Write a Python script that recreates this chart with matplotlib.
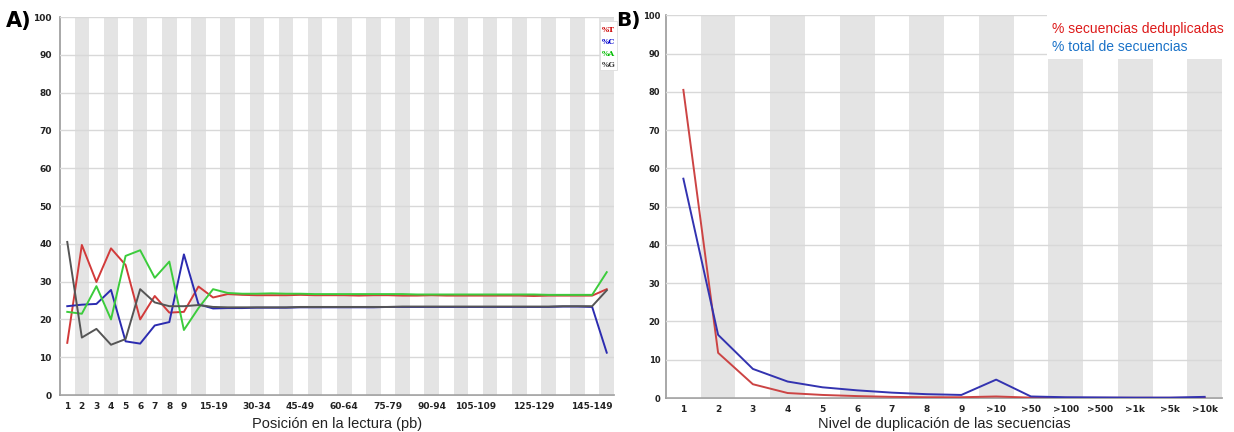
import numpy as np
import matplotlib.pyplot as plt
from matplotlib.patches import Rectangle

# Panel A: per-position base content (%)
pos_labels = ['1', '2', '3', '4', '5', '6', '7', '8', '9',
              '10-14', '15-19', '20-24', '25-29', '30-34', '35-39', '40-44',
              '45-49', '50-54', '55-59', '60-64', '65-69', '70-74', '75-79',
              '80-84', '85-89', '90-94', '95-99', '100-104', '105-109',
              '110-114', '115-119', '120-124', '125-129', '130-134',
              '135-139', '140-144', '145-149', '150-151']
shown_pos = ['1', '2', '3', '4', '5', '6', '7', '8', '9', '15-19', '30-34',
             '45-49', '60-64', '75-79', '90-94', '105-109', '125-129', '145-149']

pct_T = [13.8, 39.7, 29.9, 38.8, 34.4, 20.0, 26.2, 21.8, 22.0, 28.7, 25.8,
         26.7, 26.5, 26.4, 26.4, 26.4, 26.5, 26.4, 26.4, 26.4, 26.3, 26.4,
         26.4, 26.3, 26.3, 26.4, 26.3, 26.3, 26.3, 26.3, 26.3, 26.3, 26.2,
         26.3, 26.3, 26.3, 26.3, 28.0]
pct_C = [23.5, 23.9, 24.1, 27.8, 14.2, 13.6, 18.4, 19.3, 37.2, 24.0, 22.9,
         23.0, 23.0, 23.1, 23.1, 23.1, 23.2, 23.2, 23.2, 23.2, 23.2, 23.2,
         23.3, 23.3, 23.3, 23.3, 23.3, 23.3, 23.3, 23.3, 23.3, 23.3, 23.3,
         23.3, 23.4, 23.4, 23.3, 11.2]
pct_A = [22.0, 21.5, 28.8, 20.0, 36.8, 38.3, 31.0, 35.3, 17.2, 23.0, 28.0,
         27.0, 26.8, 26.8, 26.9, 26.8, 26.8, 26.7, 26.7, 26.7, 26.7, 26.7,
         26.7, 26.7, 26.6, 26.6, 26.6, 26.6, 26.6, 26.6, 26.6, 26.6, 26.6,
         26.5, 26.5, 26.5, 26.5, 32.5]
pct_G = [40.5, 15.2, 17.5, 13.3, 14.8, 28.0, 24.5, 23.5, 23.5, 23.8, 23.3,
         23.2, 23.2, 23.2, 23.2, 23.2, 23.3, 23.3, 23.3, 23.3, 23.3, 23.3,
         23.3, 23.4, 23.4, 23.4, 23.4, 23.4, 23.4, 23.4, 23.4, 23.4, 23.4,
         23.4, 23.5, 23.5, 23.5, 27.7]

# Panel B: sequence duplication levels (%)
dup_labels = ['1', '2', '3', '4', '5', '6', '7', '8', '9', '>10', '>50',
              '>100', '>500', '>1k', '>5k', '>10k']
dedup_pct = [80.5, 11.8, 3.6, 1.3, 0.8, 0.5, 0.3, 0.2, 0.2, 0.4, 0.1,
             0.05, 0.05, 0.05, 0.05, 0.05]
total_pct = [57.3, 16.5, 7.6, 4.3, 2.8, 2.0, 1.4, 1.0, 0.8, 4.8, 0.4,
             0.2, 0.15, 0.1, 0.1, 0.3]

STRIPE = '#e4e4e4'
GRID = '#d8d8d8'
TICKFONT = dict(fontsize=6.5, fontweight='bold', color='#222222')
LABELFONT = dict(fontsize=10.5, family='Liberation Sans', color='#222222')


def base_axes(ax, n, ypad):
    for i in range(1, n, 2):
        ax.axvspan(i - 0.5, i + 0.5, color=STRIPE, lw=0, zorder=0)
    ax.set_xlim(-0.5, n - 0.5)
    ax.set_ylim(0, 100)
    ax.set_yticks(range(0, 101, 10))
    ax.yaxis.grid(True, color=GRID, lw=1)
    ax.set_axisbelow(False)
    for side in ['top', 'right']:
        ax.spines[side].set_visible(False)
    for side in ['left', 'bottom']:
        ax.spines[side].set_color('#999999')
        ax.spines[side].set_linewidth(1.2)
    ax.tick_params(axis='y', length=0, pad=ypad)
    ax.tick_params(axis='x', length=0, pad=5)


fig = plt.figure(figsize=(12.34, 4.32), dpi=100)
axA = fig.add_axes([0.0486, 0.0856, 0.449, 0.875])
axB = fig.add_axes([0.5397, 0.0787, 0.4506, 0.886])

# --- A) base content per position ---
nA = len(pos_labels)
xA = np.arange(nA)
base_axes(axA, nA, 6)
for vals, col in [(pct_T, '#d23a3a'), (pct_C, '#2b2bb0'),
                  (pct_A, '#3ccc3c'), (pct_G, '#555555')]:
    axA.plot(xA, vals, color=col, lw=1.4, zorder=3)
axA.set_xticks([pos_labels.index(p) for p in shown_pos])
axA.set_xticklabels(shown_pos, **TICKFONT)
for lab in axA.get_yticklabels():
    lab.set(**TICKFONT)
axA.set_xlabel('Posición en la lectura (pb)', labelpad=4, **LABELFONT)

# small key in the top right corner
axA.add_patch(Rectangle((0.974, 0.86), 0.032, 0.13, transform=axA.transAxes,
                        facecolor='white', edgecolor='#dddddd', lw=0.6,
                        zorder=4, clip_on=False))
for k, (txt, col) in enumerate([('%T', '#cc0000'), ('%C', '#0000cc'),
                                ('%A', '#00bb00'), ('%G', '#333333')]):
    axA.text(0.990, 0.965 - k * 0.031, txt, transform=axA.transAxes,
             color=col, fontsize=5.5, fontweight='bold', family='DejaVu Serif',
             ha='center', va='center', zorder=5)

# --- B) duplication levels ---
nB = len(dup_labels)
xB = np.arange(nB)
base_axes(axB, nB, 4)
axB.plot(xB, dedup_pct, color='#cc4444', lw=1.4, zorder=3)
axB.plot(xB, total_pct, color='#3333b0', lw=1.4, zorder=3)
axB.set_xticks(xB)
axB.set_xticklabels(dup_labels, **TICKFONT)
for lab in axB.get_yticklabels():
    lab.set(**TICKFONT)
    lab.set_fontsize(6)
axB.set_xlabel('Nivel de duplicación de las secuencias', labelpad=2, **LABELFONT)

axB.add_patch(Rectangle((0.685, 0.885), 0.33, 0.12, transform=axB.transAxes,
                        facecolor='white', edgecolor='none', zorder=4,
                        clip_on=False))
axB.text(0.695, 0.964, '% secuencias deduplicadas', transform=axB.transAxes,
         color='#dd1a1a', fontsize=10, family='Liberation Sans',
         va='center', zorder=5)
axB.text(0.695, 0.918, '% total de secuencias', transform=axB.transAxes,
         color='#1a72c8', fontsize=10, family='Liberation Sans',
         va='center', zorder=5)

fig.text(0.005, 0.952, 'A)', fontsize=15, fontweight='bold', va='center')
fig.text(0.499, 0.952, 'B)', fontsize=14.5, fontweight='bold', va='center')

fig.savefig('out.png', dpi=100, facecolor='white')
